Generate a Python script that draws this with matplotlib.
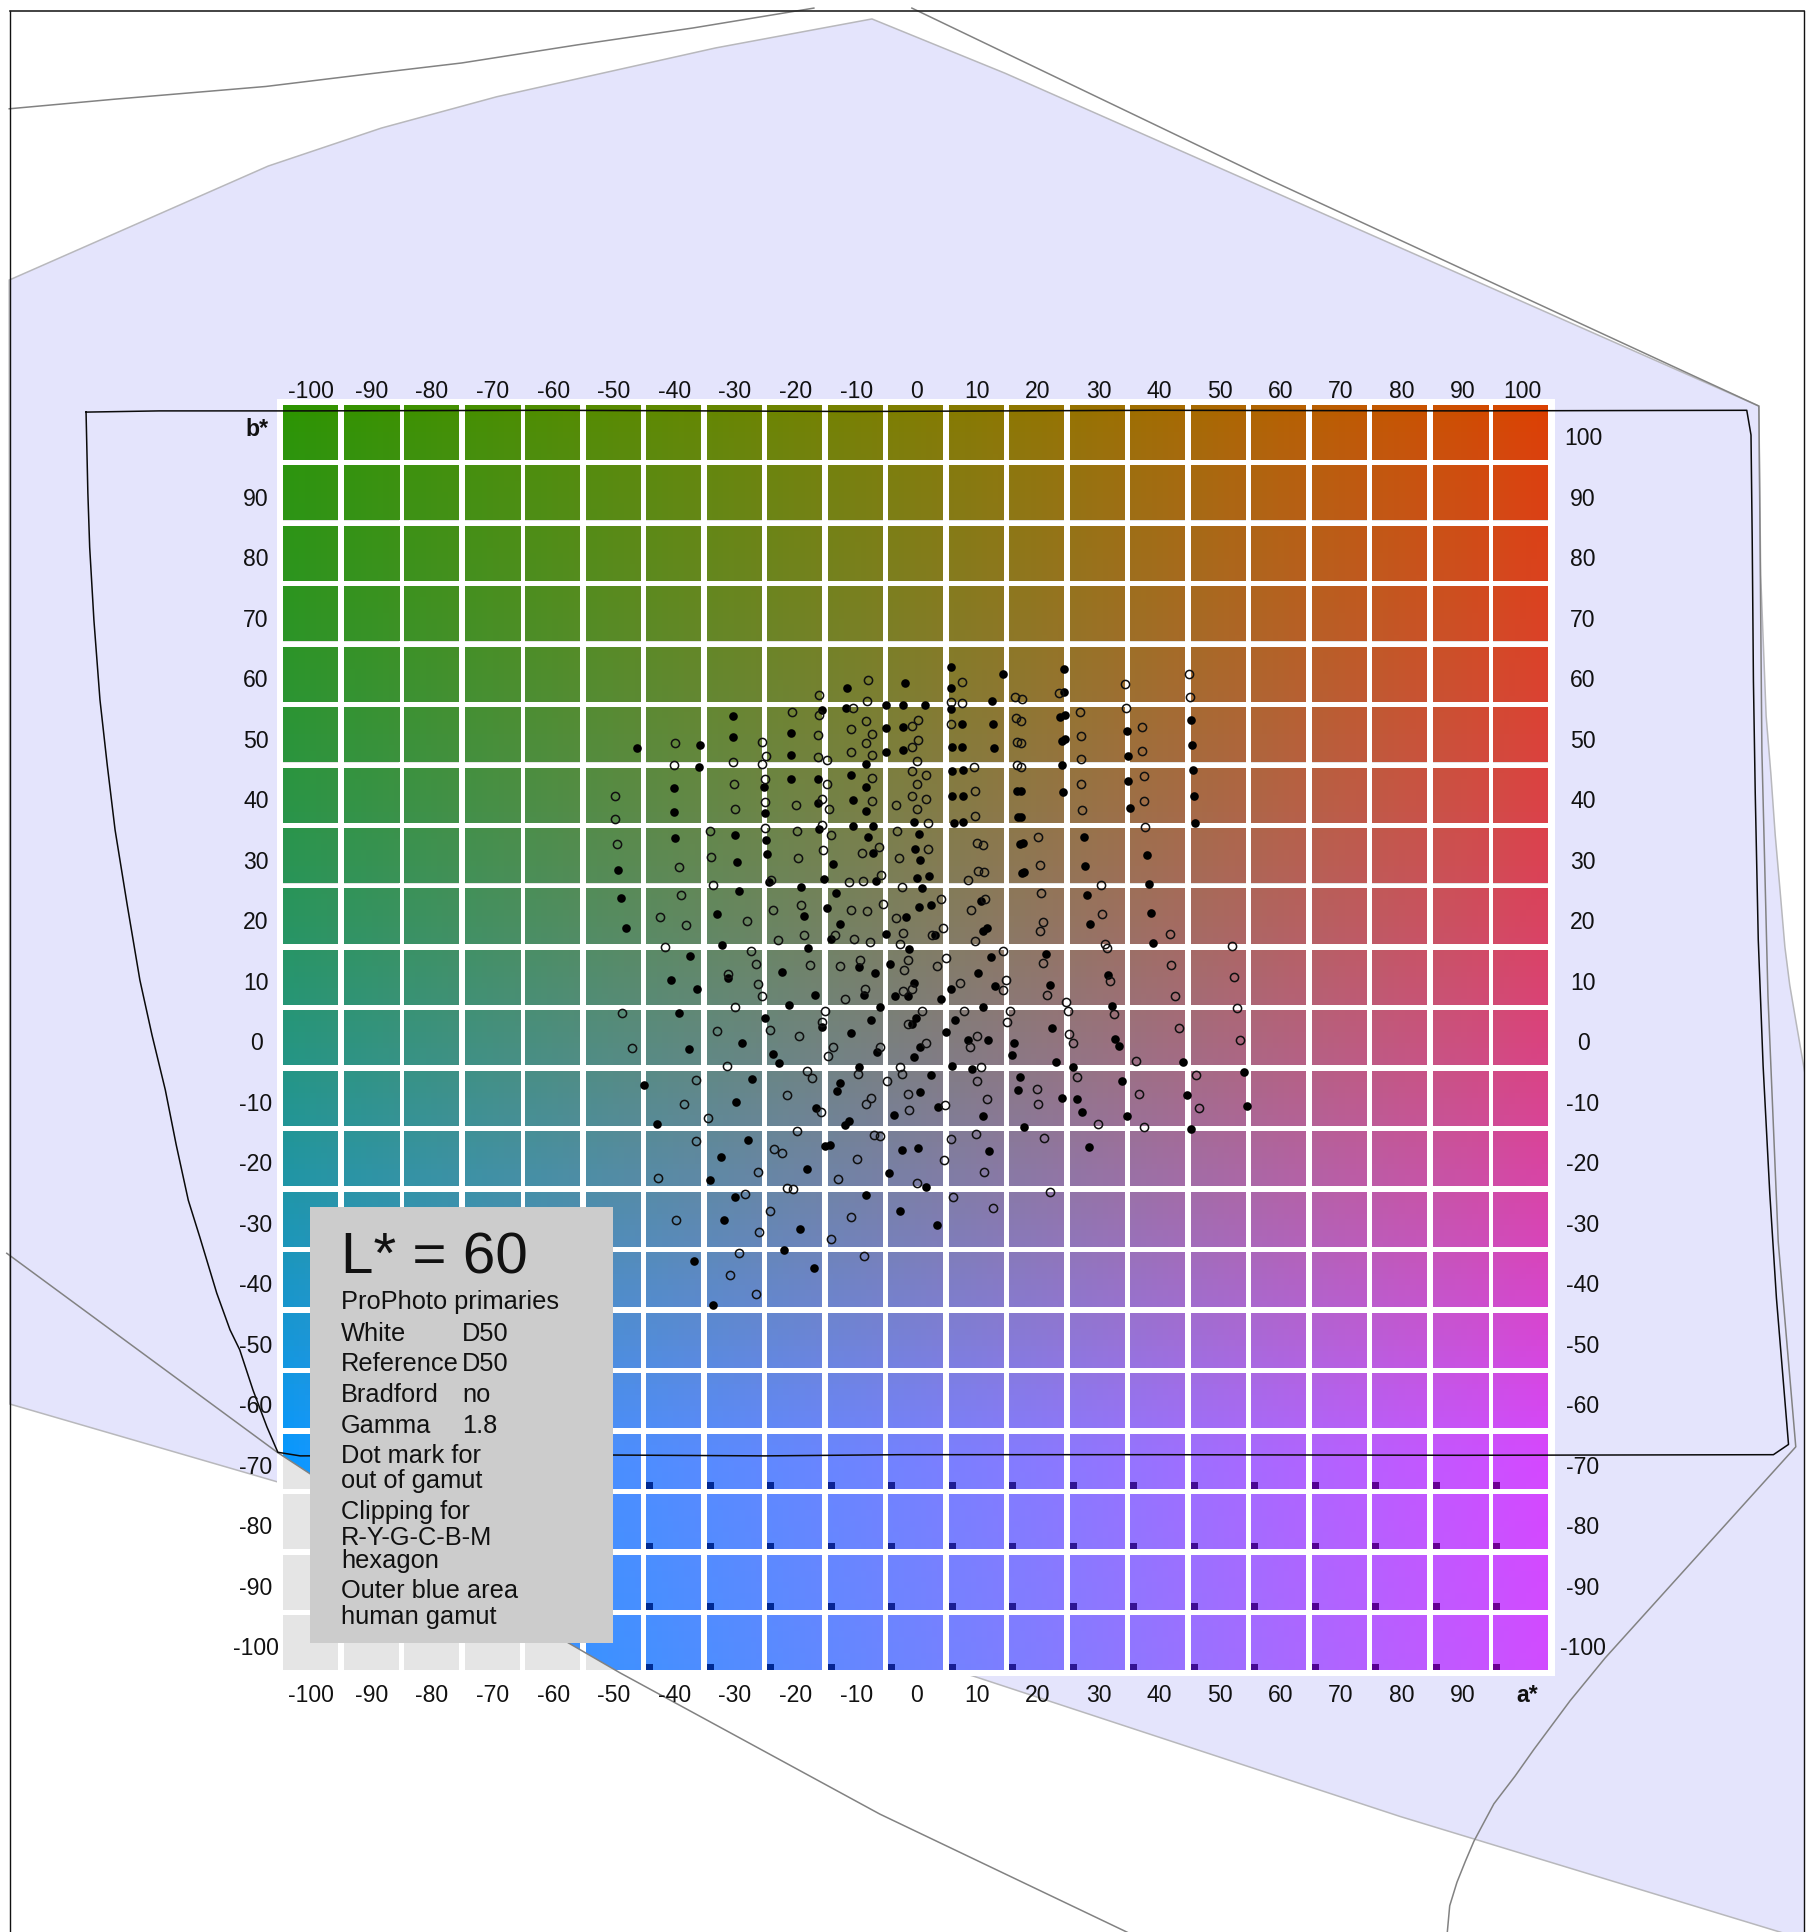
import numpy as np
import matplotlib
matplotlib.use("Agg")
import matplotlib.pyplot as plt
from matplotlib.patches import Polygon, Rectangle

L_STAR = 60
a_ticks = list(range(-100, 101, 10))
b_ticks = list(range(100, -101, -10))

# cells with a clipping mark (B channel over range)
mark_a = list(range(-40, 101, 10))
mark_b = [-70, -80, -90, -100]

filled_dots = [
    (-11.3, 57.6), (-15.5, 53.9), (-11.5, 54.2), (-30.1, 52.9), (-30.2, 49.4), (-20.5, 50.1), (-20.5, 46.4),
    (-46.0, 47.6), (-35.7, 48.1), (-35.8, 44.4), (-8.2, 44.9), (-10.6, 43.1), (-8.2, 41.2), (-20.5, 42.4),
    (-16.1, 42.4), (-40.0, 41.0), (-25.1, 41.1), (-10.4, 39.0), (-16.1, 38.4), (-39.9, 36.9), (-24.9, 36.8),
    (-8.1, 37.1), (-10.3, 34.7), (-7.1, 34.7), (-16.0, 34.2), (-29.8, 33.2), (-39.8, 32.6), (-24.7, 32.3),
    (-7.9, 32.9), (-7.0, 30.2), (-24.5, 30.0), (-29.5, 28.7), (-13.6, 28.4), (-49.1, 27.4), (-15.1, 25.9),
    (-6.6, 25.5), (-24.2, 25.3), (-19.0, 24.6), (-29.1, 23.9), (-13.2, 23.5), (-48.6, 22.7), (-14.6, 21.0),
    (-32.8, 20.1), (-18.4, 19.7), (-12.5, 18.4), (-47.8, 17.7), (-14.0, 15.9), (-32.0, 14.9), (-17.8, 14.4),
    (-37.2, 13.1),
    (5.9, 61.0), (14.4, 59.9), (-1.8, 58.3), (24.6, 60.7), (5.9, 57.6), (24.5, 56.9), (-2.0, 54.7), (1.5, 54.7),
    (-4.9, 54.7), (12.6, 55.4), (5.9, 54.1), (24.7, 53.1), (23.9, 52.7), (12.8, 51.6), (7.7, 51.6), (-2.1, 51.1),
    (-4.9, 50.9), (24.7, 49.1), (24.2, 48.8), (45.5, 52.2), (35.0, 50.4), (6.0, 47.8), (7.7, 47.8), (13.0, 47.6),
    (-2.1, 47.3), (-4.9, 46.9), (35.1, 46.3), (45.7, 48.1), (24.2, 44.7), (6.0, 43.8), (7.8, 43.9), (45.9, 43.9),
    (35.2, 42.1), (24.3, 40.3), (6.1, 39.6), (7.9, 39.7), (16.8, 40.5), (17.4, 40.5), (46.0, 39.6), (35.4, 37.7),
    (-0.3, 35.4), (6.3, 35.2), (7.9, 35.4), (17.0, 36.2), (17.5, 36.2), (46.2, 35.2), (0.5, 33.3), (27.8, 32.8),
    (-0.1, 30.8), (17.7, 31.8), (17.2, 31.6), (38.3, 29.9), (0.7, 29.0), (28.0, 28.1), (17.9, 27.1), (17.6, 26.8),
    (0.2, 26.1), (2.3, 26.3), (38.6, 25.1), (1.0, 24.4), (28.3, 23.3), (10.8, 22.3), (0.6, 21.2), (2.6, 21.6),
    (-1.6, 19.5), (38.9, 20.3), (28.8, 18.4), (11.9, 17.7), (11.2, 17.3), (3.2, 16.6), (-4.8, 16.7), (39.3, 15.2),
    (-1.0, 14.2), (12.5, 12.9), (21.6, 13.5),
    (-40.4, 9.2), (-36.1, 7.6), (-31.0, 9.4), (-22.0, 10.4), (-9.3, 11.3), (-6.7, 10.2), (-16.6, 6.6), (-8.5, 6.6),
    (-20.9, 4.9), (-5.9, 4.6), (-39.1, 3.7), (-24.9, 2.8), (-7.4, 2.5), (-15.4, 1.3), (-10.6, 0.4), (-28.6, -1.3),
    (-37.5, -2.3), (-23.6, -3.2), (-6.4, -2.8), (-22.6, -4.7), (-9.4, -5.3), (-27.1, -7.3), (-12.4, -8.0),
    (-13.0, -9.3), (-44.9, -8.3), (-29.6, -11.1), (-16.5, -12.1), (-11.0, -14.2), (-11.6, -15.0), (-42.7, -14.7),
    (-27.7, -17.4), (-32.1, -20.2), (-14.2, -18.3), (-14.9, -18.4), (-18.0, -22.2), (-34.0, -24.1), (-29.8, -26.9),
    (-8.1, -26.5), (-31.7, -30.7), (-19.1, -32.1), (-21.7, -35.7), (-36.6, -37.5), (-16.7, -38.7), (-33.4, -44.7),
    (-4.2, 11.7), (10.4, 10.2), (31.9, 10.0), (-0.3, 8.7), (13.1, 8.1), (5.8, 7.7), (-3.4, 6.5), (-1.2, 6.4),
    (22.2, 8.3), (4.2, 6.0), (32.5, 4.8), (11.2, 4.6), (0.1, 2.9), (-0.6, 1.9), (6.5, 2.5), (22.5, 1.1), (5.1, 0.5),
    (33.0, -0.7), (33.6, -1.9), (16.3, -1.4), (8.6, -0.8), (12.0, -0.9), (0.8, -2.0), (-0.3, -3.7), (16.0, -3.3),
    (23.3, -4.5), (44.2, -4.4), (6.1, -5.2), (9.3, -5.7), (26.0, -5.3), (2.6, -6.6), (17.2, -7.0), (54.3, -6.2),
    (34.2, -7.6), (16.9, -9.2), (0.7, -9.5), (44.8, -10.0), (24.2, -10.5), (26.7, -10.6), (3.7, -11.9), (54.8, -11.8),
    (27.6, -12.7), (-3.6, -13.3), (11.1, -13.5), (35.0, -13.4), (18.0, -15.2), (45.5, -15.6), (-2.2, -19.1),
    (0.4, -18.8), (12.2, -19.2), (28.6, -18.5), (-4.3, -22.9), (1.8, -25.2), (-2.6, -29.2), (3.5, -31.5),
]

open_dots = [
    (-7.9, 58.8), (-16.0, 56.4), (-10.4, 54.3), (-8.0, 55.4), (-20.4, 53.6), (-16.0, 53.1), (-8.1, 52.0),
    (-10.6, 50.7), (-7.2, 50.0), (-8.1, 48.5), (-16.1, 49.7), (-25.3, 48.6), (-39.8, 48.4), (-10.6, 47.0),
    (-7.2, 46.4), (-16.1, 46.1), (-14.6, 45.6), (-24.7, 46.2), (-39.9, 44.7), (-30.1, 45.3), (-25.3, 44.9),
    (-24.8, 42.5), (-7.2, 42.7), (-14.6, 41.7), (-30.0, 41.6), (-49.7, 39.7), (-15.5, 39.1), (-24.8, 38.6),
    (-19.7, 38.1), (-7.2, 38.8), (-14.3, 37.5), (-29.9, 37.5), (-49.6, 35.9), (-15.5, 34.9), (-24.8, 34.4),
    (-34.0, 33.9), (-19.6, 33.8), (-14.0, 33.1), (-49.3, 31.7), (-6.0, 31.2), (-8.9, 30.1), (-15.3, 30.6),
    (-33.8, 29.5), (-19.4, 29.3), (-39.1, 27.8), (-5.7, 26.6), (-23.9, 25.7), (-8.6, 25.5), (-11.0, 25.3),
    (-33.4, 24.9), (-38.7, 23.2), (-18.9, 21.5), (-5.4, 21.8), (-23.5, 20.8), (-10.7, 20.7), (-8.0, 20.6),
    (-42.2, 19.6), (-27.9, 18.9), (-38.0, 18.2), (-13.3, 16.6), (-18.4, 16.6), (-10.2, 16.0), (-22.8, 15.7),
    (-7.5, 15.4), (-41.4, 14.6), (-27.2, 13.9), (-9.2, 12.5),
    (7.7, 58.6), (34.7, 58.2), (45.2, 59.8), (16.4, 56.1), (17.6, 55.7), (23.8, 56.7), (45.4, 56.0), (5.8, 55.3),
    (7.7, 55.1), (34.8, 54.3), (27.2, 53.5), (0.4, 52.3), (-0.5, 51.3), (5.9, 51.6), (16.6, 52.5), (17.5, 52.1),
    (37.5, 51.0), (27.3, 49.6), (0.4, 48.9), (-0.6, 47.7), (16.7, 48.6), (17.5, 48.4), (37.5, 47.1), (27.4, 45.7),
    (0.2, 45.4), (9.7, 44.5), (16.8, 44.7), (17.5, 44.5), (-0.6, 43.8), (1.8, 43.2), (37.7, 43.0), (0.2, 41.6),
    (27.4, 41.6), (9.8, 40.5), (-0.5, 39.7), (1.8, 39.2), (-3.3, 38.2), (37.8, 38.8), (0.3, 37.5), (27.5, 37.3),
    (9.9, 36.3), (2.0, 35.1), (-3.0, 33.9), (38.0, 34.5), (20.2, 32.8), (10.1, 31.8), (11.1, 31.5), (2.0, 30.8),
    (-2.7, 29.3), (20.5, 28.2), (10.3, 27.2), (11.3, 27.1), (8.7, 25.7), (-2.2, 24.5), (30.6, 24.9), (4.2, 22.6),
    (11.5, 22.6), (20.7, 23.6), (9.2, 20.8), (30.9, 20.1), (-3.3, 19.4), (21.1, 18.7), (4.5, 17.8), (20.6, 17.2),
    (42.0, 16.7), (-2.0, 16.9), (2.8, 16.6), (-2.6, 15.1), (9.8, 15.6), (31.4, 15.1), (31.7, 14.4), (14.5, 14.0),
    (5.1, 12.8), (52.3, 14.8),
    (-17.5, 11.6), (-12.5, 11.5), (-26.4, 11.8), (-31.0, 10.1), (-26.1, 8.5), (-8.3, 7.6), (-25.3, 6.5), (-11.7, 6.0),
    (-29.9, 4.6), (-15.0, 3.9), (-48.5, 3.7), (-46.9, -2.2), (-15.5, 2.1), (-24.0, 0.9), (-32.8, 0.6), (-19.3, -0.2),
    (-13.7, -2.0), (-5.8, -2.0), (-14.4, -3.4), (-31.2, -5.2), (-18.0, -6.0), (-17.1, -7.2), (-9.5, -6.5), (-36.2, -7.5),
    (-21.3, -10.0), (-7.4, -10.5), (-8.2, -11.5), (-38.3, -11.4), (-15.7, -12.8), (-34.3, -13.8), (-19.6, -16.0),
    (-6.9, -16.6), (-5.9, -16.7), (-36.2, -17.6), (-23.4, -18.9), (-22.0, -19.5), (-9.7, -20.6), (-26.1, -22.8),
    (-42.5, -23.7), (-12.8, -23.8), (-21.3, -25.4), (-20.2, -25.6), (-28.1, -26.4), (-24.0, -29.2), (-10.6, -30.2),
    (-39.6, -30.6), (-25.9, -32.7), (-13.9, -33.8), (-29.2, -36.2), (-8.5, -36.6), (-30.7, -39.8), (-26.4, -43.0),
    (-1.3, 12.4), (21.1, 12.0), (3.6, 11.4), (-1.9, 10.7), (42.3, 11.6), (52.7, 9.7), (7.3, 8.7), (32.1, 8.9),
    (15.0, 9.1), (-2.1, 7.3), (-0.6, 7.7), (14.4, 7.5), (21.7, 6.6), (42.9, 6.4), (24.8, 5.4), (1.0, 3.9), (8.0, 4.0),
    (15.7, 4.0), (32.8, 3.5), (25.2, 4.0), (53.2, 4.5), (-1.3, 1.9), (15.1, 2.1), (43.6, 1.1), (53.7, -0.8), (25.4, 0.1),
    (26.0, -1.3), (10.2, -0.2), (9.0, -2.0), (1.8, -1.4), (36.4, -4.3), (-2.6, -5.3), (10.9, -5.3), (-2.3, -6.5),
    (10.1, -7.7), (26.7, -7.0), (46.3, -6.7), (-4.7, -7.7), (20.0, -9.0), (-1.2, -9.8), (37.0, -9.8), (11.8, -10.6),
    (20.3, -11.5), (4.9, -11.6), (-1.1, -12.5), (46.9, -12.1), (30.2, -14.8), (37.8, -15.3), (10.0, -16.5), (5.9, -17.2),
    (21.2, -17.1), (4.7, -20.7), (11.4, -22.7), (0.2, -24.5), (6.2, -26.8), (22.2, -26.0), (12.8, -28.7),
]

# gamut outlines, in a*, b*
human_gamut = [
    (-149.8, 125.2), (-107.0, 144.1), (-88.3, 150.4), (-69.2, 155.6), (-33.0, 163.7), (-7.2, 168.5), (14.8, 159.5),
    (139.4, 104.3), (139.7, 76.3), (140.6, 52.9), (141.4, 43.1), (142.1, 33.2), (142.9, 24.0), (143.7, 14.6),
    (144.5, 8.3), (145.4, 3.0), (147.0, -6.3),
    (151.2, -20.7), (151.2, -151.3), (80.1, -129.6), (9.5, -106.3), (-105.5, -74.1), (-149.7, -61.2),
]
hexagon_top_left = [
    (-149.8, 153.6), (-132.3, 155.2), (-107.4, 157.3), (-90.2, 159.4), (-75.0, 161.2), (-55.9, 164.2), (-36.8, 167.0),
    (-16.8, 170.3),
]
hexagon_right = [
    (-0.6, 170.3), (58.6, 141.8), (139.4, 104.3), (139.9, 47.1), (140.9, 6.5), (142.6, -34.3), (145.5, -68.3),
    (114.0, -103.3), (108.2, -110.4), (102.2, -118.5), (99.1, -122.9), (95.6, -127.5), (94.0, -130.5), (92.3, -133.7),
    (90.9, -137.0), (89.5, -140.5), (88.3, -144.4), (87.9, -148.8),
]
hexagon_bottom_left = [
    (-150.2, -36.2), (-105.5, -69.2), (-81.9, -84.7), (-57.4, -100.8), (-48.8, -105.8), (-5.9, -129.2), (35.0, -148.8),
]
drawn_outline = [
    (-137.1, 103.3), (-136.8, 89.9), (-136.5, 80.9), (-135.8, 68.8), (-134.8, 55.6), (-133.6, 44.8), (-132.3, 34.0),
    (-130.3, 21.6), (-128.2, 9.1), (-126.2, 0.0), (-124.0, -9.1), (-122.2, -18.2),
    (-120.2, -27.4), (-118.3, -33.5), (-115.5, -42.8), (-113.3, -48.9), (-111.7, -52.2), (-109.5, -58.9),
    (-107.2, -65.0), (-105.4, -69.2), (-101.7, -69.8), (-60.0, -69.6), (-25.0, -69.8), (-2.6, -69.6), (40.0, -69.6),
    (90.0, -69.7), (141.8, -69.6), (144.3, -67.9), (142.3, -43.6), (141.2, -26.2), (140.1, -5.1), (139.3, 15.8),
    (138.8, 40.1), (138.5, 58.7), (138.3, 82.1), (138.1, 99.5), (137.4, 103.6), (90.0, 103.5), (40.0, 103.6),
    (-10.0, 103.4), (-60.0, 103.6), (-100.0, 103.5), (-125.0, 103.5), (-137.1, 103.3),
]

legend_rows = [
    ("ProPhoto primaries", "", 1309), ("White", "D50", 1341), ("Reference", "D50", 1371), ("Bradford", "no", 1402),
    ("Gamma", "1.8", 1433), ("Dot mark for", "", 1463), ("out of gamut", "", 1488), ("Clipping for", "", 1519),
    ("R-Y-G-C-B-M", "", 1545), ("hexagon", "", 1568), ("Outer blue area", "", 1598), ("human gamut", "", 1624),
]

WIDTH, HEIGHT = 1807, 1932
FONT = "Liberation Sans"
TEXT = "#111111"
CELL = 6.05  # page pixels per a*, b* unit


# page pixel -> chart units, only used for layout
def px_a(x):
    return (x - 915.5) / CELL


def px_b(y):
    return (1037.5 - y) / CELL


# the b* readings above came off a 6.03 px scale with zero at 1035
def fix_b(points):
    return [(a, (6.03 * b + 2.5) / CELL) for a, b in points]


filled_dots = fix_b(filled_dots)
open_dots = fix_b(open_dots)
human_gamut = fix_b(human_gamut)
hexagon_top_left = fix_b(hexagon_top_left)
hexagon_right = fix_b(hexagon_right)
hexagon_bottom_left = fix_b(hexagon_bottom_left)
drawn_outline = fix_b(drawn_outline)


def lab_to_rgb(a, b):
    # Lab (D50) to ProPhoto, gamma 1.8, channels clipped
    fy = (L_STAR + 16) / 116
    fx = fy + np.asarray(a) / 500
    fz = fy - np.asarray(b) / 200

    def finv(t):
        return np.where(t > 6 / 29, t ** 3, 3 * (6 / 29) ** 2 * (t - 4 / 29))

    X = 0.9642 * finv(fx)
    Y = 1.0 * finv(fy)
    Z = 0.8249 * finv(fz)
    R = 1.3460 * X - 0.2556 * Y - 0.0511 * Z
    G = -0.5446 * X + 1.5082 * Y + 0.0205 * Z
    B = 1.2123 * Z
    rgb = np.stack([R, G, B], axis=-1)
    return np.clip(rgb, 0, 1) ** (1 / 1.8)


fig = plt.figure(figsize=(WIDTH / 100, HEIGHT / 100), dpi=100)
ax = fig.add_axes([0, 0, 1, 1])
ax.axis("off")

half = 27.5 / CELL

# outer blue area
frame_clip = Rectangle((px_a(7), px_b(HEIGHT)), px_a(1803.5) - px_a(7), px_b(11) - px_b(HEIGHT), transform=ax.transData)
human = Polygon(human_gamut, closed=True, facecolor="#e4e4fc", edgecolor="#b8b8bc", linewidth=1.1, zorder=1)
ax.add_patch(human)
human.set_clip_path(frame_clip)

ax.add_patch(Rectangle((px_a(277), px_b(1675.5)), px_a(1554.5) - px_a(277), px_b(399) - px_b(1675.5),
                       facecolor="white", edgecolor="none", zorder=2))

# region kept inside the hexagon, the rest of the cells stay grey
keep = hexagon_bottom_left + [(220, -148.8), (220, 220), (-220, 220), (-220, -36.2)]
keep_patch = Polygon(keep, closed=True, transform=ax.transData)

for a in a_ticks:
    for b in b_ticks:
        ext = [a - half, a + half, b - half, b + half]
        ax.add_patch(Rectangle((ext[0], ext[2]), 2 * half, 2 * half, facecolor="#e5e5e5", edgecolor="none", zorder=3))
        aa, bb = np.meshgrid(np.linspace(ext[0], ext[1], 10), np.linspace(ext[3], ext[2], 10))
        im = ax.imshow(lab_to_rgb(aa, bb), extent=ext, aspect="auto", interpolation="nearest", zorder=4, origin="upper")
        im.set_clip_path(keep_patch)

for a in mark_a:
    for b in mark_b:
        col = np.clip(lab_to_rgb(a, b) - np.array([0.38, 0.38, 0.42]), 0, 1)
        ax.add_patch(Rectangle((a - half, b - half), 7 / CELL, 6.5 / CELL, facecolor=col, edgecolor="none", zorder=5))

for line in (hexagon_top_left, hexagon_right, hexagon_bottom_left):
    xs, ys = zip(*line)
    ax.plot(xs, ys, color="#828282", lw=1.1, zorder=6, solid_joinstyle="round")

xs, ys = zip(*drawn_outline)
ax.plot(xs, ys, color="#0a0a0a", lw=1.1, zorder=7, solid_joinstyle="round")

fx, fy = zip(*filled_dots)
ax.plot(fx, fy, "o", color="black", ms=6.2, mew=0, zorder=8, linestyle="none")
ox, oy = zip(*open_dots)
ax.plot(ox, oy, "o", mfc="none", mec="#101010", ms=5.9, mew=1.1, zorder=9, linestyle="none")

# page frame, open at the bottom
ax.plot([px_a(10), px_a(10)], [px_b(HEIGHT), px_b(11)], color="#111111", lw=1.0, zorder=10)
ax.plot([px_a(10), px_a(1804)], [px_b(11), px_b(11)], color="#222222", lw=1.2, zorder=10)
ax.plot([px_a(1804), px_a(1804)], [px_b(11), px_b(HEIGHT)], color="#111111", lw=1.0, zorder=10)

# tick labels, spaced a touch wider than the cells in the reference
tick = dict(family=FONT, fontsize=16.6, color=TEXT, ha="center", va="center", zorder=11)
for a in a_ticks:
    ax.text(px_a(916.8 + 6.06 * a), px_b(391), str(a), **tick)
    if a < 100:
        ax.text(px_a(916.8 + 6.06 * a), px_b(1696), str(a), **tick)
ax.text(px_a(1527), px_b(1696), "a*", fontweight="bold", **tick)
for b in b_ticks:
    ax.text(px_a(1583), b - 1.06, str(b), **tick)
    if b < 100:
        ax.text(px_a(256), b - 1.06, str(b), **tick)
ax.text(px_a(257), px_b(430), "b*", fontweight="bold", **tick)

# legend box
ax.add_patch(Rectangle((px_a(310), px_b(1643)), px_a(613) - px_a(310), px_b(1207) - px_b(1643),
                       facecolor="#cccccc", edgecolor="none", zorder=12))
ax.text(px_a(341), px_b(1273), f"L* = {L_STAR}", family=FONT, fontsize=42, color=TEXT, va="baseline", zorder=13)
for left, right, y in legend_rows:
    ax.text(px_a(341), px_b(y), left, family=FONT, fontsize=18.3, color=TEXT, va="baseline", zorder=13)
    if right:
        ax.text(px_a(462), px_b(y), right, family=FONT, fontsize=18.3, color=TEXT, va="baseline", zorder=13)

ax.set_xlim(px_a(0), px_a(WIDTH))
ax.set_ylim(px_b(HEIGHT), px_b(0))

fig.savefig("out.png", dpi=100, facecolor="white")
